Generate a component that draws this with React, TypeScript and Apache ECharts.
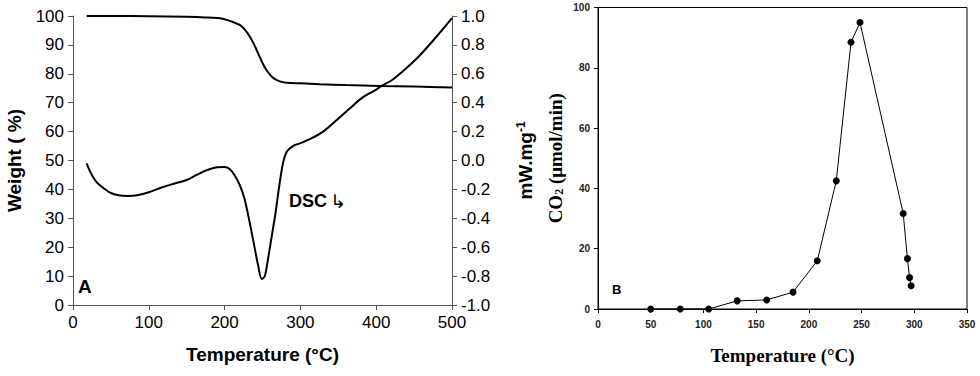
import React, { useEffect, useRef } from "react";
import * as echarts from "echarts";

// Panel A: TGA (weight %) vs temperature
const tgaTemp = [18, 50, 100, 150, 175, 194, 205, 212, 220, 227, 233, 238, 242, 246, 251, 255, 260, 264, 269, 275, 282, 300, 326, 360, 405, 450, 500];
const tgaWeight = [100, 100, 99.9, 99.7, 99.5, 99.2, 98.5, 97.8, 96.9, 95.2, 93, 90.6, 88.4, 86, 83.2, 81.4, 79.6, 78.6, 77.8, 77.2, 76.9, 76.7, 76.4, 76.1, 75.8, 75.6, 75.3];

// Panel A: DSC (mW/mg) vs temperature
const dscTemp = [18, 22, 27, 32, 40, 50, 60, 72, 85, 100, 115, 130, 150, 163, 177, 190, 200, 207, 213, 220, 226, 232, 238, 244, 249, 253, 257, 262, 267, 272, 277, 282, 290, 300, 315, 330, 348, 365, 383, 400, 405, 421, 440, 458, 480, 500];
const dscValue = [-0.02, -0.07, -0.12, -0.155, -0.19, -0.225, -0.24, -0.245, -0.24, -0.22, -0.19, -0.165, -0.135, -0.1, -0.066, -0.047, -0.045, -0.06, -0.1, -0.17, -0.26, -0.4, -0.56, -0.72, -0.82, -0.8, -0.69, -0.53, -0.37, -0.18, -0.02, 0.06, 0.1, 0.12, 0.155, 0.2, 0.28, 0.36, 0.44, 0.49, 0.51, 0.557, 0.64, 0.73, 0.86, 0.985];

// Panel B: CO2 evolution vs temperature
const co2Temp = [50, 78, 105, 132, 160, 185, 208, 226, 240, 248.5, 289.5, 293.5, 295.5, 297];
const co2Rate = [0, 0, 0, 2.7, 3.0, 5.6, 16.0, 42.5, 88.5, 95, 31.7, 16.7, 10.4, 7.7];

const SANS = "'Liberation Sans', Arial, sans-serif";
const SERIF = "'Liberation Serif', 'Times New Roman', serif";

export default function App() {
  const ref = useRef<HTMLDivElement>(null);
  useEffect(() => {
    if (!ref.current) return;
    const chart = echarts.init(ref.current, null, { renderer: "svg" });
    const zip = (a: number[], b: number[]) => a.map((v, i) => [v, b[i]]);
    const leftAxisLine = { show: true, lineStyle: { color: "#555", width: 1 } };
    const leftTick = { show: true, length: 5, lineStyle: { color: "#555" } };
    const leftLabel = { fontSize: 17, color: "#000", fontFamily: SANS };
    const rightAxisLine = { show: true, lineStyle: { color: "#000", width: 1 } };
    const rightTick = { show: true, length: 4, lineStyle: { color: "#000" } };
    const rightLabel = { fontSize: 10, fontWeight: "bold" as const, color: "#222", fontFamily: SANS };
    chart.setOption({
      animation: false,
      backgroundColor: "#fff",
      grid: [
        { left: 73, top: 16, width: 379, height: 289, containLabel: false },
        { left: 598, top: 7.5, width: 369, height: 301.5, containLabel: false, show: true, borderColor: "#000", borderWidth: 1, backgroundColor: "transparent" },
      ],
      xAxis: [
        {
          type: "value", gridIndex: 0, min: 0, max: 500, interval: 100,
          axisLine: leftAxisLine, axisTick: leftTick, axisLabel: { ...leftLabel, margin: 9 },
          splitLine: { show: false },
          name: "Temperature (°C)", nameLocation: "middle", nameGap: 40,
          nameTextStyle: { fontSize: 19, fontWeight: "bold", color: "#000", fontFamily: SANS },
        },
        {
          type: "value", gridIndex: 1, min: 0, max: 350, interval: 50,
          axisLine: rightAxisLine, axisTick: rightTick, axisLabel: { ...rightLabel, margin: 10 },
          splitLine: { show: false },
          name: "Temperature (°C)", nameLocation: "middle", nameGap: 37,
          nameTextStyle: { fontSize: 19, fontWeight: "bold", color: "#000", fontFamily: SERIF },
        },
      ],
      yAxis: [
        {
          type: "value", gridIndex: 0, position: "left", min: 0, max: 100, interval: 10,
          axisLine: leftAxisLine, axisTick: leftTick, axisLabel: { ...leftLabel, margin: 9 },
          splitLine: { show: false },
          name: "Weight ( %)", nameLocation: "middle", nameGap: 49,
          nameTextStyle: { fontSize: 19, fontWeight: "bold", color: "#000", fontFamily: SANS },
        },
        {
          type: "value", gridIndex: 0, position: "right", min: -1, max: 1, interval: 0.2,
          axisLine: leftAxisLine, axisTick: leftTick,
          axisLabel: {
            ...leftLabel, margin: 9,
            formatter: (v: number) => (Math.abs(v) < 1e-9 ? "0.0" : v.toFixed(1)),
          },
          splitLine: { show: false },
          name: "mW.mg{sup|-1}", nameLocation: "middle", nameGap: 63,
          nameTextStyle: {
            fontSize: 19, fontWeight: "bold", color: "#000", fontFamily: SANS,
            rich: { sup: { fontSize: 12, fontWeight: "bold", fontFamily: SANS, color: "#000", verticalAlign: "top", padding: [0, 0, 8, 0] } },
          },
        },
        {
          type: "value", gridIndex: 1, min: 0, max: 100, interval: 20,
          axisLine: rightAxisLine, axisTick: rightTick, axisLabel: { ...rightLabel, margin: 8 },
          splitLine: { show: false },
          name: "CO{sub|2} (μmol/min)", nameLocation: "middle", nameGap: 33,
          nameTextStyle: {
            fontSize: 19, fontWeight: "bold", color: "#000", fontFamily: SERIF,
            rich: { sub: { fontSize: 12, fontWeight: "bold", fontFamily: SERIF, color: "#000", padding: [8, 0, 0, 0] } },
          },
        },
      ],
      series: [
        {
          type: "line", xAxisIndex: 0, yAxisIndex: 0, data: zip(tgaTemp, tgaWeight),
          showSymbol: false, smooth: 0.3, lineStyle: { color: "#000", width: 2 },
        },
        {
          type: "line", xAxisIndex: 0, yAxisIndex: 1, data: zip(dscTemp, dscValue),
          showSymbol: false, smooth: 0.3, lineStyle: { color: "#000", width: 2 },
        },
        {
          type: "line", xAxisIndex: 1, yAxisIndex: 2, data: zip(co2Temp, co2Rate),
          symbol: "circle", symbolSize: 7, itemStyle: { color: "#000" },
          lineStyle: { color: "#000", width: 1 },
        },
      ],
      graphic: [
        { type: "text", left: 78, top: 277, style: { text: "A", fontSize: 19, fontWeight: "bold", fill: "#000", fontFamily: SANS } },
        { type: "text", left: 612, top: 283, style: { text: "B", fontSize: 13, fontWeight: "bold", fill: "#000", fontFamily: SANS } },
        {
          type: "text", left: 289, top: 191,
          style: {
            text: "{a|DSC} {b|↳}",
            rich: {
              a: { fontSize: 18, fontWeight: "bold", fill: "#000", fontFamily: SANS },
              b: { fontSize: 19, fill: "#000", fontFamily: "'DejaVu Sans', sans-serif" },
            },
          },
        },
      ],
    });
    return () => chart.dispose();
  }, []);
  return <div ref={ref} style={{ position: "absolute", left: 0, top: 0, width: 980, height: 376 }} />;
}
